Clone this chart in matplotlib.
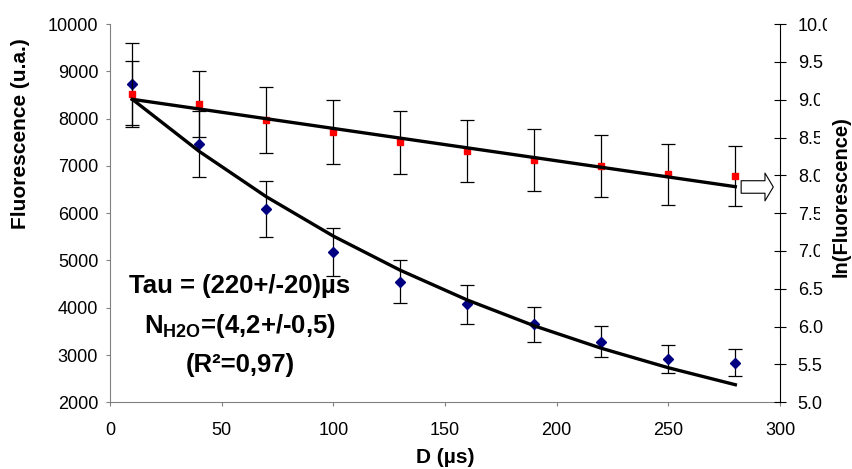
import matplotlib
matplotlib.use("Agg")
import matplotlib.pyplot as plt
from matplotlib.transforms import Bbox, TransformedBbox

plt.rcParams['font.family'] = ['Liberation Sans', 'DejaVu Sans']
plt.rcParams['mathtext.fontset'] = 'custom'
plt.rcParams['mathtext.rm'] = 'Liberation Sans'
plt.rcParams['mathtext.bf'] = 'Liberation Sans:bold'

# delai D (us)
d_us = [10, 40, 70, 100, 130, 160, 190, 220, 250, 280]

# fluorescence (axe gauche)
fluo = [8725, 7462, 6088, 5185, 4548, 4070, 3650, 3282, 2916, 2838]
fluo_err = [867, 704, 592, 510, 455, 408, 365, 325, 290, 289]
fit_fluo = [8408, 7305, 6347, 5515, 4792, 4163, 3617, 3143, 2731, 2372]

# ln(fluorescence) (axe droit)
ln_fluo = [9.075, 8.943, 8.731, 8.576, 8.436, 8.321, 8.203, 8.123, 8.013, 7.991]
ln_err = [0.44, 0.44, 0.433, 0.423, 0.42, 0.41, 0.41, 0.41, 0.40, 0.40]
fit_ln_x = [10, 280]
fit_ln = [9.005, 7.85]

ln_ticks = [5.0, 5.5, 6.0, 6.5, 7.0, 7.5, 8.0, 8.5, 9.0, 9.5, 10.0]

textes = ["Tau = (220+/-20)µs", r"N$_{\mathbf{H2O}}$=(4,2+/-0,5)", "(R²=0,97)"]

fig = plt.figure(figsize=(8.52, 4.69), dpi=100)
ax = fig.add_axes([0.1291, 0.1422, 0.7864, 0.8066])
ax2 = ax.twinx()

# courbe exponentielle + points
ax.plot(d_us, fit_fluo, color='black', lw=2.4, zorder=3)
ax.errorbar(d_us, fluo, yerr=fluo_err, fmt='D', color='#000080', ms=5.6,
            ecolor='black', elinewidth=0.9, capsize=4.7, capthick=0.9, zorder=2)

# droite ln
ax2.plot(fit_ln_x, fit_ln, color='black', lw=2.4, zorder=3)
ax2.errorbar(d_us, ln_fluo, yerr=ln_err, fmt='s', color='red', ms=4.5,
             ecolor='black', elinewidth=0.9, capsize=4.7, capthick=0.9, zorder=2)

ax.set_xlim(0, 300)
ax.set_ylim(2000, 10000)
ax.set_yticks(range(2000, 10001, 1000))
ax.set_xticks(range(0, 301, 50))
ax2.set_ylim(5, 10)
ax2.set_yticks(ln_ticks)
ax2.set_yticklabels(['%.1f' % v for v in ln_ticks])

for s in ['top', 'right']:
    ax.spines[s].set_visible(False)
for s in ['top', 'left', 'bottom']:
    ax2.spines[s].set_visible(False)
ax.spines['left'].set_color('#808080')
ax.spines['bottom'].set_color('#808080')
ax2.spines['right'].set_color('black')

ax.tick_params(axis='y', direction='out', length=3, width=0.8, color='#808080', labelsize=13, pad=5.5)
ax.tick_params(axis='x', direction='out', length=3, width=0.8, color='#808080', labelsize=13, pad=11)
ax2.tick_params(axis='y', direction='inout', length=8.6, width=0.8, color='black', labelsize=13, pad=8.5)

ax.set_xlabel('D (µs)', fontsize=15, fontweight='bold', va='center')
ax.xaxis.set_label_coords(0.5, -0.147)
ax.set_ylabel('Fluorescence (u.a.)', fontsize=15, fontweight='bold', va='center')
ax.yaxis.set_label_coords(-0.133, 0.709)
ax2.set_ylabel('ln(Fluorescence)', fontsize=14.5, fontweight='bold', va='center')
ax2.yaxis.set_label_coords(1.0915, 0.545)

# etiquettes de droite coupees comme dans Excel (sous le titre de l'axe)
for v, t in zip(ln_ticks, ax2.get_yticklabels()):
    if v < 7.0 or v == 9.5:
        continue
    xc = 827 if v == 10.0 else 820
    t.set_clip_box(TransformedBbox(Bbox([[0, 0], [xc / 852, 1]]), fig.transFigure))
    t.set_clip_on(True)

# fleche vers l'axe ln
ax2.annotate('', xy=(297, 7.846), xytext=(282.6, 7.846), annotation_clip=False,
             arrowprops=dict(arrowstyle='simple,head_length=0.6,head_width=2.0,tail_width=0.9',
                             mutation_scale=10, fc='white', ec='black', lw=0.8,
                             shrinkA=0, shrinkB=0))

for txt, yy in zip(textes, [0.307, 0.202, 0.099]):
    ax.text(0.194, yy, txt, transform=ax.transAxes, ha='center', va='center',
            fontsize=18.5, fontweight='bold')

fig.savefig('out.png', dpi=100)
